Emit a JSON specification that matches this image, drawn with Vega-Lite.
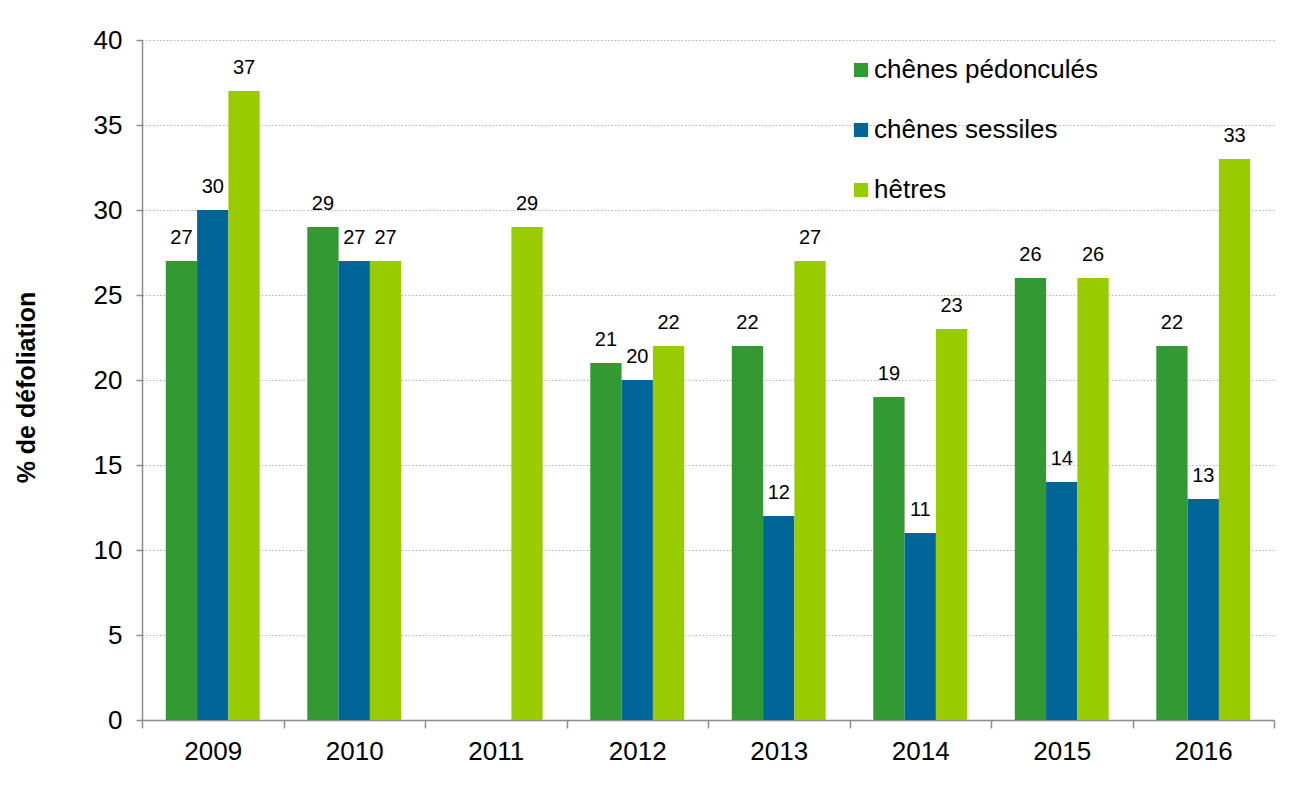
{
  "$schema": "https://vega.github.io/schema/vega-lite/v6.json",
  "width": 1132,
  "height": 680,
  "autosize": {"type": "none"},
  "padding": {"left": 142, "top": 40, "right": 30, "bottom": 76},
  "background": "white",
  "config": {
    "font": "Liberation Sans",
    "view": {"stroke": null},
    "axis": {"labelColor": "#000000", "titleColor": "#000000"}
  },
  "data": {
    "values": [
      {"year": "2009", "species": "chênes pédonculés", "value": 27},
      {"year": "2009", "species": "chênes sessiles", "value": 30},
      {"year": "2009", "species": "hêtres", "value": 37},
      {"year": "2010", "species": "chênes pédonculés", "value": 29},
      {"year": "2010", "species": "chênes sessiles", "value": 27},
      {"year": "2010", "species": "hêtres", "value": 27},
      {"year": "2011", "species": "hêtres", "value": 29},
      {"year": "2012", "species": "chênes pédonculés", "value": 21},
      {"year": "2012", "species": "chênes sessiles", "value": 20},
      {"year": "2012", "species": "hêtres", "value": 22},
      {"year": "2013", "species": "chênes pédonculés", "value": 22},
      {"year": "2013", "species": "chênes sessiles", "value": 12},
      {"year": "2013", "species": "hêtres", "value": 27},
      {"year": "2014", "species": "chênes pédonculés", "value": 19},
      {"year": "2014", "species": "chênes sessiles", "value": 11},
      {"year": "2014", "species": "hêtres", "value": 23},
      {"year": "2015", "species": "chênes pédonculés", "value": 26},
      {"year": "2015", "species": "chênes sessiles", "value": 14},
      {"year": "2015", "species": "hêtres", "value": 26},
      {"year": "2016", "species": "chênes pédonculés", "value": 22},
      {"year": "2016", "species": "chênes sessiles", "value": 13},
      {"year": "2016", "species": "hêtres", "value": 33}
    ]
  },
  "encoding": {
    "x": {
      "field": "year",
      "type": "nominal",
      "scale": {"domain": ["2009","2010","2011","2012","2013","2014","2015","2016"], "paddingInner": 0, "paddingOuter": 0},
      "axis": {
        "title": null,
        "labelAngle": 0,
        "labelFontSize": 26,
        "labelPadding": 10,
        "tickBand": "extent",
        "tickSize": 8,
        "tickColor": "#8c8c8c",
        "domainColor": "#8c8c8c",
        "domainWidth": 1.5,
        "tickWidth": 1.5,
        "grid": false
      }
    },
    "xOffset": {
      "field": "species",
      "type": "nominal",
      "scale": {"domain": ["chênes pédonculés", "chênes sessiles", "hêtres"], "paddingInner": 0, "paddingOuter": 0.76}
    },
    "y": {
      "field": "value",
      "type": "quantitative",
      "scale": {"domain": [0, 40], "nice": false},
      "axis": {
        "values": [0, 5, 10, 15, 20, 25, 30, 35, 40],
        "title": "% de défoliation",
        "titleFontSize": 25,
        "titleFontWeight": "bold",
        "titleX": -116,
        "titleY": 347,
        "titleAlign": "center",
        "titleBaseline": "middle",
        "titleAngle": -90,
        "labelFontSize": 26,
        "labelPadding": 14,
        "tickSize": 6,
        "tickColor": "#8c8c8c",
        "tickWidth": 1.5,
        "domainColor": "#8c8c8c",
        "domainWidth": 1.5,
        "grid": true,
        "gridColor": "#a5b4c6",
        "gridDash": [1.5, 2],
        "gridWidth": 1
      }
    }
  },
  "layer": [
    {
      "mark": {"type": "bar"},
      "encoding": {
        "color": {
          "field": "species",
          "type": "nominal",
          "scale": {"domain": ["chênes pédonculés", "chênes sessiles", "hêtres"], "range": ["#339933", "#006699", "#99cc00"]},
          "legend": {
            "title": null,
            "orient": "none",
            "legendX": 706,
            "legendY": 17,
            "symbolType": "square",
            "symbolSize": 200,
            "symbolStrokeWidth": 0,
            "symbolOpacity": 1,
            "labelFontSize": 26,
            "labelColor": "#000000",
            "labelLimit": 0,
            "labelOffset": 0,
            "rowPadding": 34
          }
        }
      }
    },
    {
      "mark": {"type": "text", "baseline": "alphabetic", "dy": -17, "fontSize": 20, "color": "#000000"},
      "encoding": {
        "text": {"field": "value", "type": "quantitative"}
      }
    }
  ]
}
